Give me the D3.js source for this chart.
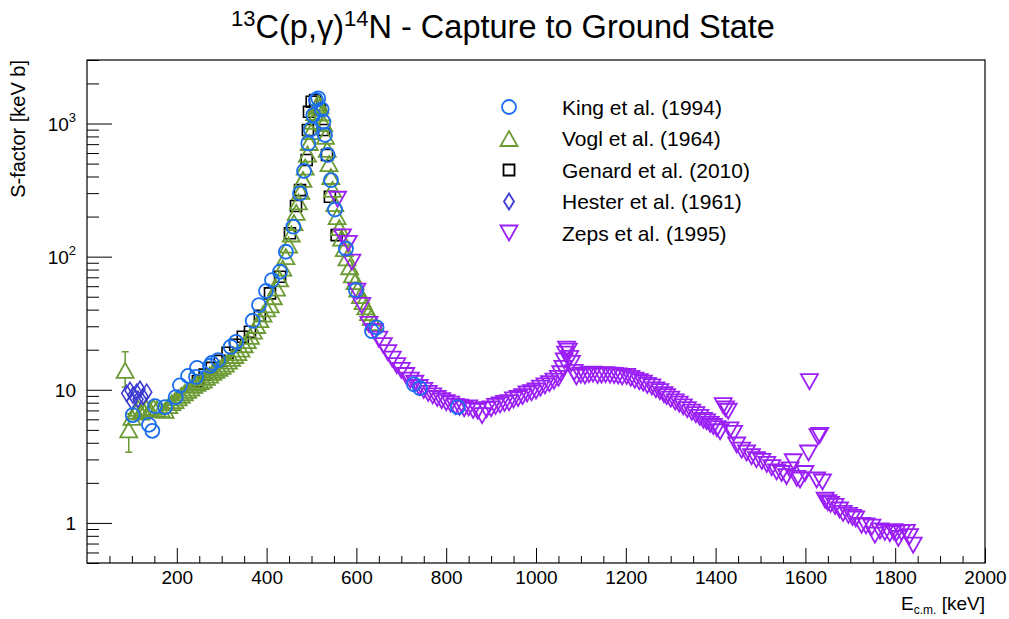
<!DOCTYPE html>
<html><head><meta charset="utf-8">
<script src="https://cdn.jsdelivr.net/npm/d3@7"></script>
<style>body{margin:0;background:#fff} text{font-family:"Liberation Sans",Arial,Helvetica,sans-serif}</style>
</head><body><svg id="c" width="1009" height="619"></svg>
<script>
// ---------------- data ----------------
const xMajorTicks = [200,400,600,800,1000,1200,1400,1600,1800,2000];
const yMajorTicks = [1,10,100,1000];
const yTickExp = ["1","10","2","3"];   // labels: 1, 10, 10^2, 10^3

const seriesNames = ["King et al. (1994)","Vogl et al. (1964)","Genard et al. (2010)","Hester et al. (1961)","Zeps et al. (1995)"];

const king = [[101.8,6.46],[138,5.46],[145.5,4.92],[151.4,7.54],[173.7,7.41],[197.6,8.81],[207,10.8],[225,12.7],[242.8,12.5],[245,14.6],[274,15.1],[277.7,15.9],[291.8,16.7],[320,21.0],[332,22.9],[369,33.0],[383,43.3],[398.7,55.2],[412,66.7],[429.8,77.0],[443,108.9],[459.5,167.9],[474.4,299],[483.3,440],[492.9,710],[498.2,904],[504,1158],[510,1502],[515,1547],[522.7,1279],[526.3,1031],[530,820],[536,580],[543.4,376],[552.3,226],[576.8,115],[599,56],[634.7,27.6],[645,29.4],[728,11.0],[741.6,10.3],[826,7.42]];
const kingErr = [[145.5,4.4,5.4]];

const vogl = [[85,14.0],[93,5.0],[100,6.2],[108,6.9],[114,7.25],[120,6.8],[125,7.0],[133,7.3],[140,7.1],[148,7.4],[156,7.2],[165,7.1],[174,7.0],[182,7.6],[189,8.0],[196,8.3],[203,8.7],[210,9.1],[217,9.5],[224,9.9],[231,10.3],[238,10.8],[245,11.2],[252,11.5],[259,11.8],[266,12.4],[273,12.9],[280,13.5],[287,14.0],[294,14.5],[301,15.0],[308,15.6],[315,16.4],[322,17.2],[329,18.1],[336,19.0],[343,20.2],[350,21.8],[357,23.4],[364,25.2],[371,27.6],[378,30.4],[385,33.6],[392,37.0],[400,40.5],[408,43.5],[415,50],[422,58],[429,68],[436,82],[443,100],[449,122],[455,148],[461,180],[466,215],[471,258],[476,310],[481,380],[486,470],[491,590],[495,720],[499,870],[503,1040],[507,1210],[511,1350],[515,1420],[519,1360],[523,1200],[527,1000],[531,800],[535,640],[539,500],[543,400],[547,320],[552,250],[557,200],[562,165],[567,138],[573,115],[579,98],[585,84],[591,73],[597,65],[603,57],[609,51],[615,46],[621,42],[627,38],[633,35],[639,32]];
const voglErr = [[85,10.5,19.3],[93,3.4,6.6]];

const genard = [[247,11.6],[262,13.0],[278,14.6],[296,16.5],[313,19.0],[330,21.8],[347,25.0],[363,27.3],[385,36],[407.6,53],[430,70.6],[452,150],[465.5,240],[474.4,316],[489.3,532],[492,894],[494.4,1227],[500.4,1458],[508,1500],[519,1263],[528,894],[534.5,580],[541,282],[556,145]];

const hester = [[88.4,9.4],[95.8,9.9],[99.6,8.2],[102.4,9.1],[110.7,9.6],[113.6,8.5],[118,10.1],[124.7,8.9],[133,9.6]];
const hesterErr = [[88.4,8.6,10.2],[95.8,9.0,10.9],[99.6,7.5,9.0],[102.4,8.3,9.9],[110.7,8.8,10.4],[113.6,7.8,9.3],[118,9.2,11.0],[124.7,8.1,9.7],[133,8.8,10.4]];

const zeps = [[558,270],[569,141],[582,126],[590,91],[601,55],[612,43],[628,31],[640,27.5],[650,24],[660,21.5],[670,19],[680,17],[690,15.2],[700,14],[710,12.8],[720,11.8],[730,11.2],[740,10.4],[750,9.9],[760,9.4],[770,9.0],[780,8.6],[790,8.3],[800,8.0],[810,7.8],[820,7.5],[830,7.4],[840,7.2],[850,7.3],[860,7.0],[870,6.9],[880,6.4],[890,7.1],[900,7.2],[910,7.5],[920,7.7],[930,7.9],[940,8.0],[950,8.4],[960,8.6],[970,8.9],[980,9.3],[990,9.5],[1000,9.8],[1010,10.3],[1020,10.7],[1030,11.1],[1040,11.6],[1050,12.2],[1055,13.2],[1060,14.5],[1063,16.5],[1066,18.5],[1068,20.2],[1072,19.5],[1075,17.2],[1079,15.8],[1085,13.5],[1090,12.5],[1100,12.9],[1109,12.7],[1118,13.0],[1127,13.1],[1137,12.8],[1146,12.9],[1155,13.0],[1165,12.9],[1174,12.8],[1183,12.7],[1192,12.5],[1202,12.6],[1211,12.2],[1220,11.8],[1230,11.5],[1239,11.2],[1248,10.8],[1258,10.5],[1267,10.0],[1276,9.7],[1285,9.2],[1291,8.9],[1300,8.5],[1310,8.1],[1319,7.8],[1328,7.45],[1337,7.1],[1347,6.8],[1356,6.5],[1365,6.2],[1373,5.9],[1380,5.75],[1388,5.5],[1395,5.3],[1403,5.1],[1410,4.84],[1417,7.6],[1422,7.2],[1428,6.9],[1432,5.0],[1440,4.7],[1447,3.85],[1458,3.52],[1469,3.35],[1480,3.14],[1491,2.99],[1503,2.9],[1514,2.75],[1525,2.6],[1536,2.42],[1547,2.35],[1558,2.23],[1566,2.5],[1573,2.88],[1581,2.16],[1588,2.1],[1599,2.35],[1607,3.35],[1609,11.5],[1625,2.1],[1628,4.45],[1632,4.55],[1638,2.03],[1644,1.48],[1650,1.42],[1656,1.38],[1666,1.33],[1676,1.25],[1684,1.18],[1696,1.14],[1705,1.10],[1712,1.07],[1725,0.96],[1735,0.95],[1748,0.93],[1755,0.81],[1766,0.87],[1777,0.85],[1788,0.83],[1797,0.86],[1803,0.84],[1807,0.765],[1814,0.85],[1825,0.85],[1832,0.79],[1840,0.68]];
const zepsErr = [[1755,0.72,0.9],[1840,0.6,0.76],[1807,0.7,0.83]];

// ---------------- layout ----------------
const W = 1009, H = 619, L = 87, R = 985, T = 60, B = 563;
const COL = {king:"#1a6ef0", vogl:"#6b9a33", genard:"#000000", hester:"#3c3cd2", zeps:"#9a1ff5"};

const x = d3.scaleLinear().domain([0, 2000]).range([L, R]);
const y = d3.scaleLog().domain([0.5, 3000]).range([B, T]);

const svg = d3.select("#c");
svg.append("rect").attr("width", W).attr("height", H).attr("fill", "#fff");

// ---- axes ----
const xMinor = d3.range(50, 2000, 50).filter(v => v % 200 !== 0);
const gxm = svg.append("g").attr("transform", `translate(0,${B})`)
  .call(d3.axisBottom(x).tickValues(xMinor).tickSize(-7).tickFormat(""));
const gx = svg.append("g").attr("transform", `translate(0,${B})`)
  .call(d3.axisBottom(x).tickValues(xMajorTicks).tickSize(-15).tickPadding(8).tickFormat(d3.format("d")));
gx.selectAll("text").attr("font-size", 19).attr("fill", "#000").attr("font-family", '"Liberation Sans",Arial,sans-serif');

const yMinor = [];
[0.1, 1, 10, 100, 1000].forEach(dec => { for (let k = 2; k <= 9; k++) { const v = k * dec; if (v >= 0.5 && v <= 3000) yMinor.push(v); } });
const gym = svg.append("g").attr("transform", `translate(${L},0)`)
  .call(d3.axisLeft(y).tickValues(yMinor).tickSize(-12).tickFormat(""));
const gy = svg.append("g").attr("transform", `translate(${L},0)`)
  .call(d3.axisLeft(y).tickValues(yMajorTicks).tickSize(-25).tickFormat(""));
[gxm, gx, gym, gy].forEach(g => { g.select(".domain").remove(); g.selectAll("line").attr("stroke", "#000").attr("stroke-width", 1); });

// y tick labels with superscripts
gy.selectAll(".tick").each(function(d, i) {
  const t = d3.select(this).append("text").attr("x", -11).attr("y", 7).attr("text-anchor", "end")
    .attr("font-size", 19).attr("fill", "#000");
  const e = yTickExp[i];
  if (e === "1" || e === "10") { t.text(e); }
  else { t.append("tspan").text("10"); t.append("tspan").attr("font-size", 13).attr("dy", -9).text(e); }
});

// frame
svg.append("rect").attr("x", L).attr("y", T).attr("width", R - L).attr("height", B - T)
  .attr("fill", "none").attr("stroke", "#000").attr("stroke-width", 1.2);

// ---- markers ----
const shapes = {
  circle: {half: 7, d: "M7,0A7,7 0 1,1 -7,0A7,7 0 1,1 7,0Z"},
  up: {half: 7.5, d: "M0,-7.5L8.5,7.5L-8.5,7.5Z"},
  down: {half: 7.5, d: "M0,7.5L8.5,-7.5L-8.5,-7.5Z"},
  square: {half: 5.5, d: "M-5.5,-5.5H5.5V5.5H-5.5Z"},
  diamond: {half: 8, d: "M0,-8L5,0L0,8L-5,0Z"}
};

const plot = svg.append("g");
function drawSeries(data, errs, shape, col, sw) {
  const s = shapes[shape];
  const g = plot.append("g");
  if (errs) {
    const lookup = new Map(data.map(d => [d[0], d[1]]));
    g.selectAll("path.eb").data(errs).join("path").attr("class", "eb")
      .attr("fill", "none").attr("stroke", col).attr("stroke-width", 1.5)
      .attr("d", ([e, lo, hi]) => {
        const cx = x(e), cy = y(lookup.get(e));
        const yh = y(hi), yl = y(lo);
        let p = "";
        if (yh < cy - s.half) p += `M${cx},${cy - s.half}V${yh}M${cx - 3.5},${yh}H${cx + 3.5}`;
        if (yl > cy + s.half) p += `M${cx},${cy + s.half}V${yl}M${cx - 3.5},${yl}H${cx + 3.5}`;
        return p;
      });
  }
  g.selectAll("path.m").data(data).join("path").attr("class", "m")
    .attr("d", s.d).attr("transform", d => `translate(${x(d[0])},${y(d[1])})`)
    .attr("fill", "none").attr("stroke", col).attr("stroke-width", sw);
}
drawSeries(genard, null, "square", COL.genard, 1.6);
drawSeries(vogl, voglErr, "up", COL.vogl, 1.8);
drawSeries(zeps, zepsErr, "down", COL.zeps, 1.8);
drawSeries(hester, hesterErr, "diamond", COL.hester, 1.6);
drawSeries(king, kingErr, "circle", COL.king, 1.8);

// ---- legend ----
const legShapes = ["circle", "up", "square", "diamond", "down"];
const legCols = [COL.king, COL.vogl, COL.genard, COL.hester, COL.zeps];
const legRowY = d3.scalePoint().domain(d3.range(5)).range([107, 233]);
const leg = svg.append("g");
seriesNames.forEach((n, i) => {
  const yy = legRowY(i);
  leg.append("path").attr("d", shapes[legShapes[i]].d).attr("transform", `translate(509,${yy})`)
    .attr("fill", "none").attr("stroke", legCols[i]).attr("stroke-width", 1.8);
  leg.append("text").attr("x", 562).attr("y", yy + 7.5).attr("font-size", 21).attr("fill", "#000").text(n);
});

// ---- titles ----
const title = svg.append("text").attr("x", 503).attr("y", 38).attr("text-anchor", "middle").attr("font-size", 32.5).attr("fill", "#000");
title.append("tspan").attr("font-size", 22).attr("dy", -12).text("13");
title.append("tspan").attr("dy", 12).text("C(p,γ)");
title.append("tspan").attr("font-size", 22).attr("dy", -12).text("14");
title.append("tspan").attr("dy", 12).text("N - Capture to Ground State");

const xt = svg.append("text").attr("x", R).attr("y", 610).attr("text-anchor", "end").attr("font-size", 19).attr("fill", "#000");
xt.append("tspan").text("E");
xt.append("tspan").attr("font-size", 12).attr("dy", 4).text("c.m.");
xt.append("tspan").attr("dy", -4).text(" [keV]");

svg.append("text").attr("transform", `translate(25,${T}) rotate(-90)`).attr("text-anchor", "end")
  .attr("font-size", 20).attr("fill", "#000").text("S-factor [keV b]");
</script></body></html>
